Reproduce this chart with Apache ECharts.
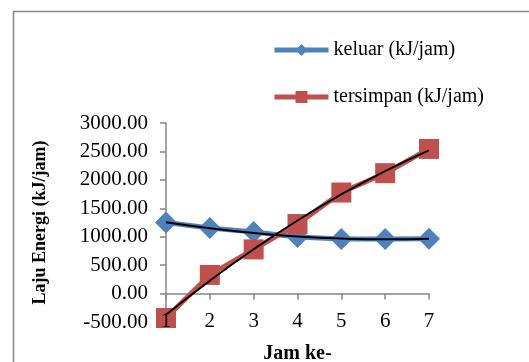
<!DOCTYPE html>
<html>
<head>
<meta charset="utf-8">
<script src="https://cdn.jsdelivr.net/npm/echarts@6/dist/echarts.min.js"></script>
<style>
  html, body { margin: 0; padding: 0; background: #ffffff; }
  #chart { width: 529px; height: 362px; }
</style>
</head>
<body>
<div id="chart"></div>
<script>
// Hour index (Jam ke-)
var hours = [1, 2, 3, 4, 5, 6, 7];
// Energy rates in kJ/jam
var keluar = [1251, 1152, 1082, 995, 960, 960, 965];
var tersimpan = [-430, 328, 777, 1223, 1777, 2117, 2544];
var yTicks = { min: -500, max: 3000, step: 500 };

var FONT = '"Liberation Serif", "Times New Roman", serif';
var BLUE = '#4F81BD';
var RED = '#C0504D';
var AXIS = '#868686';

// Second-order least-squares trendline evaluated at each hour
function polyFit2(xs, ys) {
  var n = xs.length, s = [0, 0, 0, 0, 0], t = [0, 0, 0];
  for (var i = 0; i < n; i++) {
    var p = 1;
    for (var k = 0; k < 5; k++) { s[k] += p; if (k < 3) t[k] += p * ys[i]; p *= xs[i]; }
  }
  var A = [[s[0], s[1], s[2], t[0]], [s[1], s[2], s[3], t[1]], [s[2], s[3], s[4], t[2]]];
  for (var c = 0; c < 3; c++) {
    for (var r = c + 1; r < 3; r++) {
      var f = A[r][c] / A[c][c];
      for (var q = c; q < 4; q++) A[r][q] -= f * A[c][q];
    }
  }
  var coef = [0, 0, 0];
  for (var r2 = 2; r2 >= 0; r2--) {
    var v = A[r2][3];
    for (var q2 = r2 + 1; q2 < 3; q2++) v -= A[r2][q2] * coef[q2];
    coef[r2] = v / A[r2][r2];
  }
  return xs.map(function (x) { return [x, coef[0] + coef[1] * x + coef[2] * x * x]; });
}

function pairs(ys) { return hours.map(function (h, i) { return [h, ys[i]]; }); }

var chart = echarts.init(document.getElementById('chart'), null, { renderer: 'canvas' });

var legendText = { fontFamily: FONT, fontSize: 20, color: '#000000' };
var xRange = { type: 'value', min: 1, max: 7, interval: 1, splitLine: { show: false } };

chart.setOption({
  animation: false,
  backgroundColor: '#ffffff',
  graphic: [{
    type: 'rect',
    shape: { x: 13.5, y: 11.5, width: 600, height: 400 },
    style: { fill: 'none', stroke: AXIS, lineWidth: 1.5 },
    silent: true
  }],
  legend: [{
    data: ['keluar (kJ/jam)'],
    left: 272, top: 40, padding: 0,
    itemWidth: 54, itemHeight: 15,
    lineStyle: { width: 5 },
    textStyle: legendText
  }, {
    data: ['tersimpan (kJ/jam)'],
    left: 272, top: 87, padding: 0,
    itemWidth: 54, itemHeight: 15,
    lineStyle: { width: 5 },
    textStyle: legendText
  }],
  grid: { left: 166, right: 100, top: 123, bottom: 40, outerBoundsMode: 'none', containLabel: false },
  xAxis: [Object.assign({}, xRange, {
    // hour labels and title along the bottom edge, drawn above the markers
    position: 'bottom',
    z: 10,
    name: 'Jam ke-',
    nameLocation: 'middle',
    nameGap: 22,
    nameTextStyle: { fontFamily: FONT, fontSize: 20, fontWeight: 'bold', color: '#000000' },
    axisLine: { show: false, onZero: false },
    axisTick: { show: false },
    axisLabel: {
      margin: -11, fontFamily: FONT, fontSize: 21, color: '#000000',
      showMinLabel: true, showMaxLabel: true, hideOverlap: false
    }
  }), Object.assign({}, xRange, {
    // axis line with ticks crossing at zero
    position: 'bottom',
    axisLine: { show: true, onZero: true, lineStyle: { color: AXIS, width: 1.5 } },
    axisTick: { show: true, length: 6, lineStyle: { color: AXIS, width: 1.5 } },
    axisLabel: { show: false }
  })],
  yAxis: {
    type: 'value',
    min: yTicks.min, max: yTicks.max, interval: yTicks.step,
    name: 'Laju Energi (kJ/jam)',
    nameLocation: 'middle',
    nameRotate: 90,
    nameGap: 117,
    nameTextStyle: { fontFamily: FONT, fontSize: 18, fontWeight: 'bold', color: '#000000' },
    axisLine: { show: true, lineStyle: { color: AXIS, width: 1.5 } },
    axisTick: { show: true, length: 6, lineStyle: { color: AXIS, width: 1.5 } },
    axisLabel: {
      margin: 18, fontFamily: FONT, fontSize: 21, color: '#000000',
      showMinLabel: true, showMaxLabel: true,
      formatter: function (v) { return v.toFixed(2); }
    },
    splitLine: { show: false }
  },
  series: [{
    name: 'keluar (kJ/jam)',
    type: 'line',
    data: pairs(keluar),
    symbol: 'diamond', symbolSize: [22, 22],
    lineStyle: { color: BLUE, width: 5 },
    itemStyle: { color: BLUE },
    z: 2
  }, {
    name: 'tersimpan (kJ/jam)',
    type: 'line',
    data: pairs(tersimpan),
    symbol: 'rect', symbolSize: [20, 20],
    lineStyle: { color: RED, width: 5 },
    itemStyle: { color: RED },
    z: 2
  }, {
    name: 'trend keluar',
    type: 'line',
    data: polyFit2(hours, keluar),
    smooth: true, showSymbol: false, symbol: 'none',
    lineStyle: { color: '#000000', width: 2 },
    z: 5, silent: true
  }, {
    name: 'trend tersimpan',
    type: 'line',
    data: polyFit2(hours, tersimpan),
    smooth: true, showSymbol: false, symbol: 'none',
    lineStyle: { color: '#000000', width: 2 },
    z: 5, silent: true
  }]
});
</script>
</body>
</html>
